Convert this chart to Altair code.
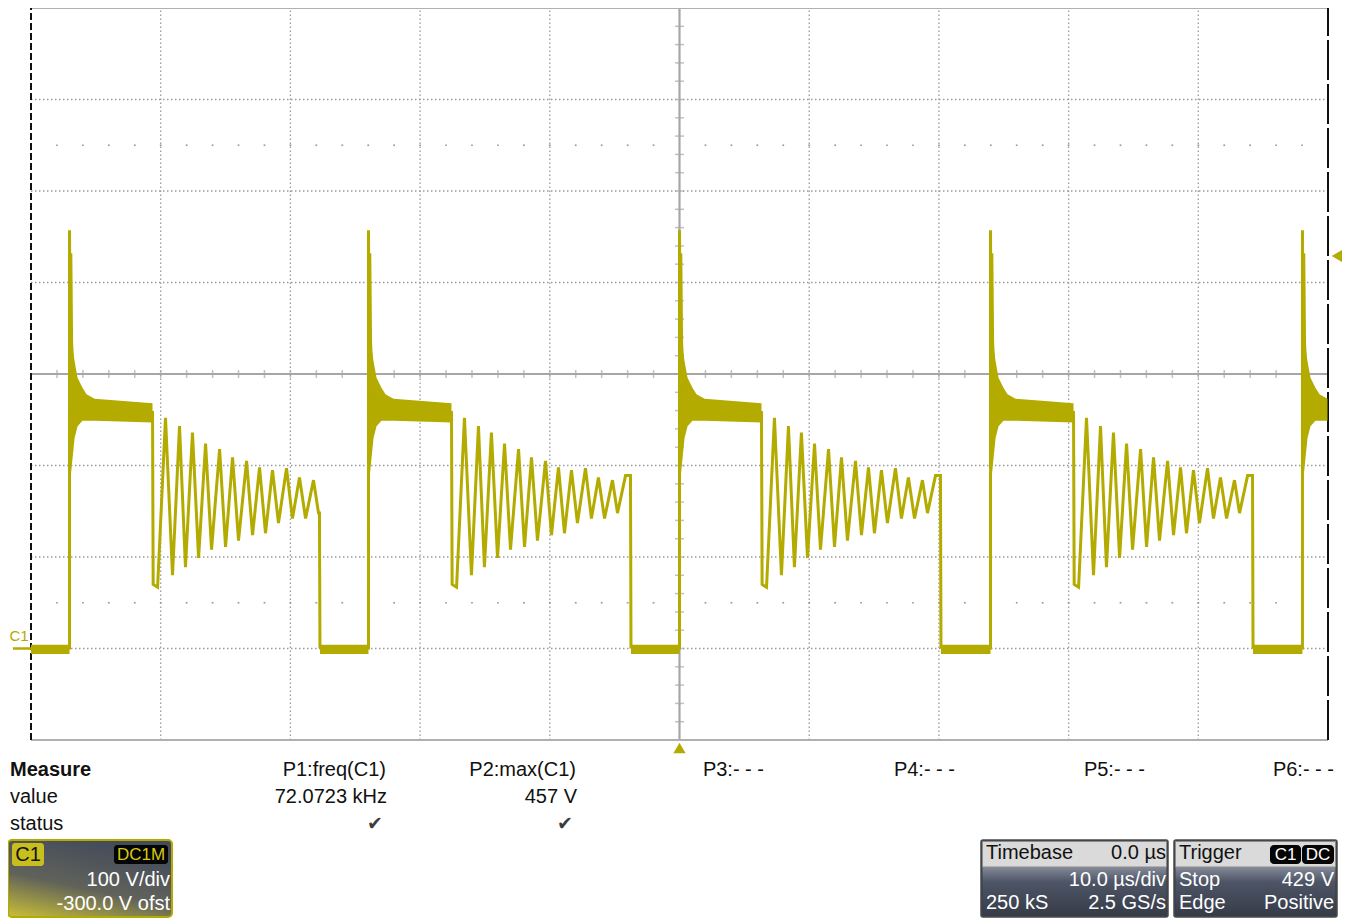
import altair as alt
import pandas as pd

FONT = "Liberation Sans"
TRACE = "#b3ab00"
GRID = "#9c9c9c"
OFF = 8  # page margin

# ---------------- waveform (time in us, voltage in V) -------------
spike_times = [-47.03, -23.98, 0.0, 23.98, 48.03]
plateau_ends = [-40.63, -17.58, 6.32, 30.38]
ring_ends = [-27.76, -3.78, 20.12, 44.18]

# rising edge + spike (offsets from the edge)
edge_dt = [0.0, 0.0, 0.06, 0.10, 0.16, 0.40]
edge_v = [-1.0, 457.0, 300.0, 432.0, 335.0, 262.0]

# noisy decaying band after the spike, then plateau (offsets from the edge)
decay_dt = [0.02, 0.08, 0.39, 0.62, 1.00, 1.31, 1.93]
decay_hi = [348.0, 343.0, 314.0, 296.0, 285.0, 278.0, 273.0]
decay_lo = [176.0, 186.0, 230.0, 243.0, 249.0, 249.0, 249.0]
plateau_end_hi = 268.0
plateau_end_lo = 247.0
plateau_mid = 258.0

# ringing after the plateau (offsets from the plateau end)
ring_dt = [0.05, 0.39, 1.00, 1.54, 2.08, 2.54, 3.08, 3.55, 4.09, 4.55, 5.17, 5.63, 6.17, 6.63,
           7.25, 7.71, 8.25, 8.71, 9.25, 9.71, 10.33, 10.79, 11.33, 11.80, 12.41, 12.80, 13.42, 13.80]
ring_v = [70, 67, 252, 80, 243, 89, 236, 99, 224, 108, 218, 111, 209, 118,
          205, 124, 198, 126, 195, 137, 197, 142, 187, 142, 184, 148, 189, 173]

ground_hi = 4.0
ground_lo = -6.0

# ---------------- screen grid ----------------
div_t = [-40, -30, -20, -10, 10, 20, 30, 40]
div_v = [0, 100, 200, 400, 500, 600]
minor_t = [t for t in range(-48, 50, 2) if t != 0]
minor_v = [v for v in range(-80, 700, 20) if v != 300]
dot_rows = [50, 550]

# ---------------- panel texts ----------------
measure_rows = ["Measure", "value", "status"]
param_names = ["P1:freq(C1)", "P2:max(C1)", "P3:- - -", "P4:- - -", "P5:- - -", "P6:- - -"]
param_values = ["72.0723 kHz", "457 V"]
channel_texts = ["C1", "DC1M", "100 V/div", "-300.0 V ofst"]
timebase_texts = ["Timebase", "0.0 \u00b5s", "10.0 \u00b5s/div", "250 kS", "2.5 GS/s"]
trigger_texts = ["Trigger", "C1", "DC", "Stop", "429 V", "Edge", "Positive"]
trigger_level = 429.0

# ---------------- build tables ----------------
line_rows, band_rows = [], []
for i, ts in enumerate(spike_times):
    seg = [(ts + d, v) for d, v in zip(edge_dt, edge_v)]
    if i < len(plateau_ends):
        pe, re_ = plateau_ends[i], ring_ends[i]
        seg.append((pe, plateau_mid))
        for d, v in zip(ring_dt, ring_v):
            if pe + d < re_:
                seg.append((pe + d, v))
        seg.append((re_, seg[-1][1]))
        seg.append((re_ + 0.04, 0.0))
        hi_list = decay_hi + [plateau_end_hi]
        lo_list = decay_lo + [plateau_end_lo]
        t_list = [ts + d for d in decay_dt] + [pe]
    else:
        hi_list, lo_list = decay_hi, decay_lo
        t_list = [ts + d for d in decay_dt]
    for k, (t, v) in enumerate(seg):
        line_rows.append({"seg": f"c{i}", "k": k, "t": t, "v": v})
    for t, h, l in zip(t_list, hi_list, lo_list):
        band_rows.append({"seg": f"b{i}", "t": t, "hi": h, "lo": l})

ground_starts = [-50.0] + [r + 0.04 for r in ring_ends]
for i, (g0, g1) in enumerate(zip(ground_starts, spike_times)):
    band_rows.append({"seg": f"g{i}", "t": g0, "hi": ground_hi, "lo": ground_lo})
    band_rows.append({"seg": f"g{i}", "t": g1, "hi": ground_hi, "lo": ground_lo})

line_df = pd.DataFrame(line_rows)
band_df = pd.DataFrame(band_rows)

xs = alt.Scale(domain=[-50, 50], range=[31 - OFF, 1328 - OFF], nice=False, zero=False)
ys = alt.Scale(domain=[-100, 700], range=[740 - OFF, 8 - OFF], nice=False, zero=False)


def X(f):
    return alt.X(f, type="quantitative", scale=xs, axis=None)


def Y(f):
    return alt.Y(f, type="quantitative", scale=ys, axis=None)


def XD(v):
    return alt.XDatum(v, scale=xs, axis=None)


def YD(v):
    return alt.YDatum(v, scale=ys, axis=None)


one = pd.DataFrame({"z": [0]})
layers = []

# dotted division grid
layers.append(alt.Chart(pd.DataFrame({"t": div_t})).mark_rule(
    color=GRID, strokeWidth=1.3, strokeDash=[1.5, 2.5]).encode(
    x=X("t"), y=YD(-100), y2=alt.Y2Datum(700)))
layers.append(alt.Chart(pd.DataFrame({"v": div_v})).mark_rule(
    color=GRID, strokeWidth=1.3, strokeDash=[1.5, 2.5]).encode(
    y=Y("v"), x=XD(-50), x2=alt.X2Datum(50)))

# sub-division dots
dots = pd.DataFrame([{"t": t, "v": v} for v in dot_rows for t in minor_t])
layers.append(alt.Chart(dots).mark_square(size=3, color=GRID, opacity=1).encode(x=X("t"), y=Y("v")))

# center cross with minor ticks
layers.append(alt.Chart(one).mark_rule(color="#a6a6a6", strokeWidth=2.2).encode(
    x=XD(0), y=YD(-100), y2=alt.Y2Datum(700)))
layers.append(alt.Chart(one).mark_rule(color="#a6a6a6", strokeWidth=2.2).encode(
    y=YD(300), x=XD(-50), x2=alt.X2Datum(50)))
layers.append(alt.Chart(pd.DataFrame({"t": minor_t})).mark_tick(
    orient="vertical", size=8, thickness=1.5, color="#a6a6a6").encode(
    x=X("t"), y=YD(300)))
layers.append(alt.Chart(pd.DataFrame({"v": minor_v})).mark_tick(
    orient="horizontal", size=9, thickness=1.5, color="#a6a6a6").encode(
    y=Y("v"), x=XD(0)))

# frame
layers.append(alt.Chart(pd.DataFrame({"v": [-100, 700]})).mark_rule(
    color="#b0b0b0", strokeWidth=2).encode(y=Y("v"), x=XD(-50), x2=alt.X2Datum(50)))
layers.append(alt.Chart(one).mark_rule(color="#111111", strokeWidth=2, strokeDash=[7, 3]).encode(
    x=XD(-50), y=YD(-100), y2=alt.Y2Datum(700)))
layers.append(alt.Chart(one).mark_rule(color="#111111", strokeWidth=2, strokeDash=[40, 4]).encode(
    x=XD(50), y=YD(-100), y2=alt.Y2Datum(700)))

# trace: noisy bands (areas) and the trace line
layers.append(alt.Chart(band_df).mark_area(color=TRACE, opacity=1, clip=True, interpolate="linear").encode(
    x=X("t"), y=Y("hi"), y2=alt.Y2("lo"), detail="seg:N"))
layers.append(alt.Chart(line_df).mark_line(color=TRACE, strokeWidth=3.0, clip=True).encode(
    x=X("t"), y=Y("v"), detail="seg:N", order="k:Q"))

# markers
layers.append(alt.Chart(one).mark_text(text="C1", font=FONT, fontSize=15, color=TRACE, align="center",
                                       baseline="middle").encode(x=alt.value(19 - OFF), y=alt.value(636 - OFF)))
layers.append(alt.Chart(one).mark_rule(color=TRACE, strokeWidth=2.5).encode(
    x=alt.value(13 - OFF), x2=alt.value(31 - OFF), y=YD(0)))
layers.append(alt.Chart(pd.DataFrame({"v": [trigger_level]})).mark_point(
    shape="triangle-left", filled=True, size=150, color=TRACE, opacity=1).encode(
    x=alt.value(1337 - OFF), y=Y("v")))
layers.append(alt.Chart(one).mark_point(
    shape="triangle-up", filled=True, size=150, color=TRACE, opacity=1).encode(
    x=XD(0), y=alt.value(748 - OFF)))


# ---------------- panel helpers ----------------
def label(text, x, y, align="left", color="#111111", size=20, weight="normal", font=FONT):
    return alt.Chart(one).mark_text(text=text, align=align, baseline="middle", fontSize=size,
                                    fontWeight=weight, font=font, color=color).encode(
        x=alt.value(x - OFF), y=alt.value(y - OFF))


def box(x1, y1, x2, y2, fill, stroke=None, sw=0, r=0):
    kw = dict(fill=fill, cornerRadius=r)
    if stroke:
        kw.update(stroke=stroke, strokeWidth=sw)
    return alt.Chart(one).mark_rect(**kw).encode(
        x=alt.value(x1 - OFF), x2=alt.value(x2 - OFF), y=alt.value(y1 - OFF), y2=alt.value(y2 - OFF))


def grad(stops, x1=0, y1=0, x2=0, y2=1):
    return alt.LinearGradient(gradient="linear", x1=x1, y1=y1, x2=x2, y2=y2,
                              stops=[alt.GradientStop(offset=o, color=c) for o, c in stops])


# measurement table
row_y = [770, 797, 824]
col_right = [386, 576, 764, 955, 1145, 1334]
layers.append(label(measure_rows[0], 10, row_y[0], weight="bold"))
layers.append(label(measure_rows[1], 10, row_y[1]))
layers.append(label(measure_rows[2], 10, row_y[2]))
for name, xr in zip(param_names, col_right):
    layers.append(label(name, xr, row_y[0], align="right"))
for val, xr in zip(param_values, col_right):
    layers.append(label(val, xr + 1, row_y[1], align="right"))
for xr in col_right[:2]:
    layers.append(label("\u2714", xr - 11, row_y[2], align="center", color="#3c3c3c", size=19,
                        font="DejaVu Sans"))

# channel box
layers.append(box(8, 840, 172, 917, grad([(0, "#c2b83a"), (0.45, "#60625a"), (1, "#444b5b")],
                                         x1=0.1, y1=1, x2=0.55, y2=0), stroke=TRACE, sw=2, r=4))
layers.append(box(12, 843, 44, 866, "#c8be1e", r=3))
layers.append(label(channel_texts[0], 28, 854.5, align="center"))
layers.append(box(114, 845, 168, 864, "#050505", r=3))
layers.append(label(channel_texts[1], 141, 854.5, align="center", color="#d6ca10", size=17))
layers.append(label(channel_texts[2], 170, 880, align="right", color="white"))
layers.append(label(channel_texts[3], 170, 904, align="right", color="white"))

# timebase + trigger boxes
for (bx1, bx2) in [(981, 1168), (1174, 1337)]:
    layers.append(box(bx1, 840, bx2, 917, "#363c48", stroke="#4a4a4a", sw=1.5, r=2))
    layers.append(box(bx1 + 1.5, 867, bx2 - 1.5, 916, grad([(0, "#858b99"), (0.3, "#4e5566"),
                                                          (1, "#353b47")])))
    layers.append(box(bx1 + 1.5, 841.5, bx2 - 1.5, 867, "#dadada", stroke="#8a8a8a", sw=1))

layers.append(label(timebase_texts[0], 986, 853))
layers.append(label(timebase_texts[1], 1166, 853, align="right"))
layers.append(label(timebase_texts[2], 1166, 880, align="right", color="white"))
layers.append(label(timebase_texts[3], 986, 903, color="white"))
layers.append(label(timebase_texts[4], 1166, 903, align="right", color="white"))

layers.append(label(trigger_texts[0], 1179, 853))
layers.append(box(1270, 845, 1301, 864, "#050505", r=4))
layers.append(box(1302, 845, 1334, 864, "#050505", r=4))
layers.append(label(trigger_texts[1], 1285.5, 854.5, align="center", color="white", size=17))
layers.append(label(trigger_texts[2], 1318, 854.5, align="center", color="white", size=17))
layers.append(label(trigger_texts[3], 1179, 880, color="white"))
layers.append(label(trigger_texts[4], 1334, 880, align="right", color="white"))
layers.append(label(trigger_texts[5], 1179, 903, color="white"))
layers.append(label(trigger_texts[6], 1334, 903, align="right", color="white"))

chart = alt.layer(*layers).properties(
    width=1334, height=910, padding=0, autosize=alt.AutoSizeParams(type="none"),
    background="white"
).configure_view(stroke=None)

chart.save("out.html", embed_options={"renderer": "svg", "actions": False})
